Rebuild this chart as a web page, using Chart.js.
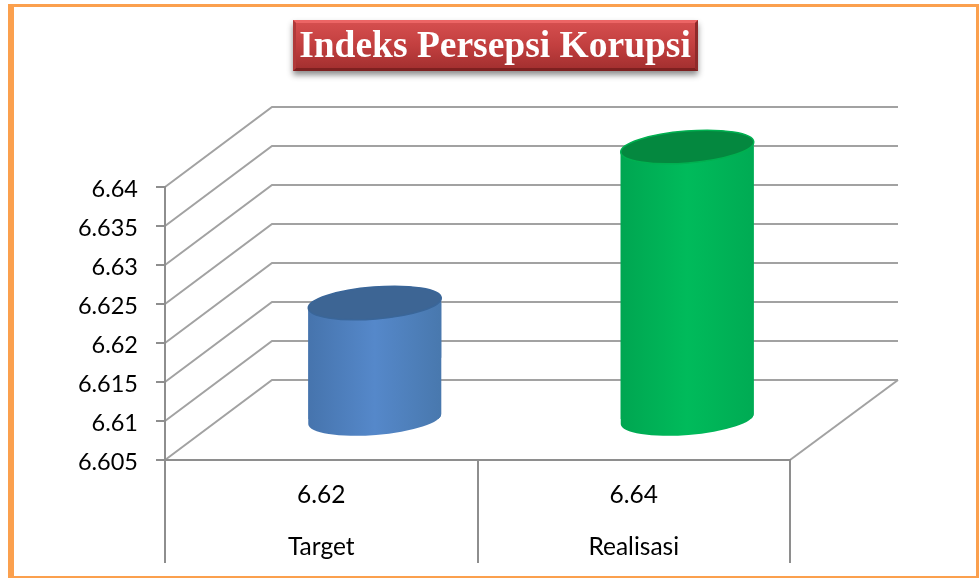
<!DOCTYPE html>
<html><head><meta charset="utf-8">
<style>html,body{margin:0;padding:0;background:#fff}#w{position:relative;width:979px;height:578px}</style>
<script src="https://cdn.jsdelivr.net/npm/chart.js@4"></script>
</head><body><div id="w"><canvas id="c" width="979" height="578"></canvas></div>
<script>
const titleText = "Indeks Persepsi Korupsi";
const categories = ["Target", "Realisasi"];
const valueLabels = ["6.62", "6.64"];
const values = [6.62, 6.64];
const yMin = 6.605, yMax = 6.64, yStep = 0.005;
const bodyStops = [
  [[0,"#28436a"],[0.07,"#345a88"],[0.25,"#4674ad"],[0.5,"#5588ca"],[0.8,"#4675a8"],[0.93,"#3a6593"],[1,"#27405f"]],
  [[0,"#007a3a"],[0.08,"#008f45"],[0.25,"#00a651"],[0.5,"#00bb5b"],[0.8,"#00a852"],[0.93,"#009147"],[1,"#007436"]]
];
const capColors = ["#3d6594", "#04883f"];
const rimColors = ["#3a6699", "#00b050"];
const depthX = 107, depthY = -80, GRID = "#a2a2a2", AXIS = "#8e8e8e";
const RX = 66.7, RY = 16, TILT = -4.5 * Math.PI / 180;

function bodyFill(c) {
  const i = c.dataIndex;
  const sx = c.chart.scales.x;
  if (!Number.isInteger(i) || !sx) return "#888";
  const cx = sx.getPixelForValue(i), w = sx.width / 2 * 0.426;
  if (!Number.isFinite(cx) || !Number.isFinite(w)) return "#888";
  const g = c.chart.ctx.createLinearGradient(cx - w, 0, cx + w, 0);
  bodyStops[i].forEach(s => g.addColorStop(s[0], s[1]));
  return g;
}
function silhouette(ctx, x, top, base) {
  ctx.ellipse(x, top, RX, RY, TILT, Math.PI, 2 * Math.PI);
  ctx.ellipse(x, base, RX, RY, TILT, 0, Math.PI);
  ctx.closePath();
}
const scene = {
  id: "scene",
  beforeDraw(chart) {
    const ctx = chart.ctx;
    ctx.save();
    ctx.fillStyle = "#fff"; ctx.fillRect(0, 0, 979, 578);
    ctx.fillStyle = "#fba04e";
    ctx.fillRect(8, 4, 971, 3); ctx.fillRect(8, 4, 6, 574);
    ctx.fillRect(976, 4, 3, 574); ctx.fillRect(8, 576, 971, 2);
    // banner
    const g = ctx.createLinearGradient(0, 20, 0, 71);
    g.addColorStop(0, "#d75050"); g.addColorStop(0.5, "#c23f3f"); g.addColorStop(1, "#a02e2e");
    ctx.shadowColor = "rgba(0,0,0,.45)"; ctx.shadowBlur = 6; ctx.shadowOffsetY = 4;
    ctx.fillStyle = g; ctx.fillRect(293, 20, 405, 51);
    ctx.shadowColor = "transparent";
    ctx.fillStyle = "#ec6565"; ctx.beginPath(); ctx.moveTo(293,20); ctx.lineTo(698,20); ctx.lineTo(695,23); ctx.lineTo(296,23); ctx.fill();
    ctx.fillStyle = "#7d2020"; ctx.beginPath(); ctx.moveTo(293,71); ctx.lineTo(698,71); ctx.lineTo(695,68); ctx.lineTo(296,68); ctx.fill();
    ctx.fillStyle = "#8f2a2a"; ctx.beginPath(); ctx.moveTo(698,20); ctx.lineTo(698,71); ctx.lineTo(695,68); ctx.lineTo(695,23); ctx.fill();
    ctx.fillStyle = "#b03a3a"; ctx.beginPath(); ctx.moveTo(293,20); ctx.lineTo(293,71); ctx.lineTo(296,68); ctx.lineTo(296,23); ctx.fill();
    ctx.fillStyle = "#fff"; ctx.font = 'bold 37.5px "Liberation Serif"';
    ctx.textAlign = "center"; ctx.textBaseline = "middle";
    ctx.fillText(titleText, 495, 47);
    // walls + floor, following the library's y scale
    const ys = chart.scales.y, a = chart.chartArea;
    ctx.strokeStyle = GRID; ctx.lineWidth = 2;
    ys.ticks.forEach(t => {
      const y = ys.getPixelForValue(t.value);
      ctx.beginPath(); ctx.moveTo(a.left, y); ctx.lineTo(a.left + depthX, y + depthY); ctx.lineTo(a.right + depthX + 1, y + depthY); ctx.stroke();
    });
    ctx.beginPath(); ctx.moveTo(a.right, a.bottom); ctx.lineTo(a.right + depthX + 1, a.bottom + depthY); ctx.stroke();
    ctx.restore();
    // nudge y labels onto the reference's optical centre
    ys.getLabelItems(a).forEach(it => {
      if (!it.options.nudged) { it.options.translation[1] += 2.5; it.options.nudged = true; }
    });
  },
  beforeDatasetDraw(chart) {
    const ctx = chart.ctx, meta = chart.getDatasetMeta(0);
    ctx.save();
    ctx.translate(depthX / 2, depthY / 2);
    meta.data.forEach(b => {
      const p = b.getProps(["x", "y", "base"], true);
      ctx.beginPath(); silhouette(ctx, p.x, p.y, p.base);
      ctx.fillStyle = b.options.backgroundColor; ctx.fill();
    });
    ctx.beginPath();
    meta.data.forEach(b => {
      const p = b.getProps(["x", "y", "base"], true);
      silhouette(ctx, p.x, p.y, p.base);
    });
    ctx.clip();
  },
  afterDatasetDraw(chart) {
    const ctx = chart.ctx, meta = chart.getDatasetMeta(0);
    ctx.restore();
    ctx.save();
    ctx.translate(depthX / 2, depthY / 2);
    meta.data.forEach((b, i) => {
      const p = b.getProps(["x", "y"], true);
      ctx.beginPath(); ctx.ellipse(p.x, p.y, RX, RY, TILT, 0, 2 * Math.PI);
      ctx.fillStyle = capColors[i]; ctx.fill();
      ctx.strokeStyle = rimColors[i]; ctx.lineWidth = 1.5; ctx.stroke();
    });
    ctx.restore();
  }
};
new Chart(document.getElementById("c"), {
  type: "bar",
  data: {
    labels: categories.map((n, i) => [valueLabels[i], n]),
    datasets: [{ data: values, base: yMin, backgroundColor: bodyFill, borderWidth: 0,
      barPercentage: 0.426, categoryPercentage: 1 }]
  },
  plugins: [scene],
  options: {
    responsive: false, animation: false, events: [],
    layout: { autoPadding: false, padding: { left: 11, right: 189, top: 187, bottom: 15 } },
    plugins: { legend: { display: false }, title: { display: false }, tooltip: { enabled: false } },
    scales: {
      x: {
        offset: true,
        afterFit(s) { s.height = 103; },
        grid: { drawOnChartArea: false, offset: true, tickLength: 103, color: AXIS, lineWidth: 2 },
        border: { color: AXIS, width: 2 },
        ticks: { autoSkip: false, maxRotation: 0, padding: -94, color: "#000",
          font: { family: "Lato", size: 24.5, lineHeight: 52 / 24.5 } }
      },
      y: {
        min: yMin, max: yMax,
        afterFit(s) { s.width = 154; },
        grid: { drawOnChartArea: false, tickLength: 9, color: AXIS, lineWidth: 2 },
        border: { color: AXIS, width: 2 },
        ticks: { stepSize: yStep, padding: 18, color: "#000",
          font: { family: "Lato", size: 23.5 },
          callback: v => String(+(+v).toFixed(3)) }
      }
    }
  }
});
</script></body></html>
